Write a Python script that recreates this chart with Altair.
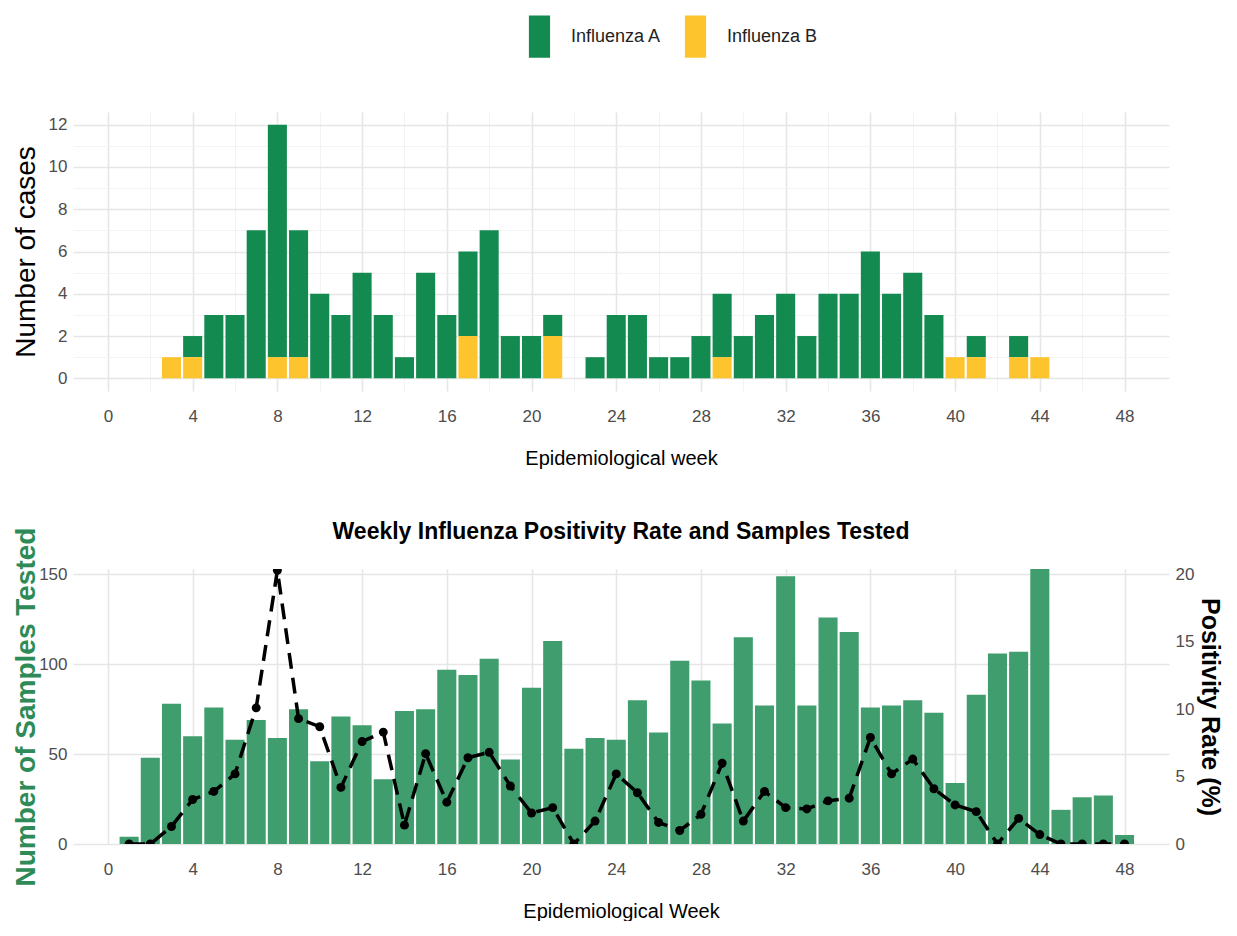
import altair as alt
import pandas as pd

weeks = list(range(1, 49))
flu_a = [0, 0, 0, 1, 3, 3, 7, 11, 6, 4, 3, 5, 3, 1, 5, 3, 4, 7, 2, 2, 1, 0, 1, 3,
         3, 1, 1, 2, 3, 2, 3, 4, 2, 4, 4, 6, 4, 5, 3, 0, 1, 0, 1, 0, 0, 0, 0, 0]
flu_b = [0, 0, 1, 1, 0, 0, 0, 1, 1, 0, 0, 0, 0, 0, 0, 0, 2, 0, 0, 0, 2, 0, 0, 0,
         0, 0, 0, 0, 1, 0, 0, 0, 0, 0, 0, 0, 0, 0, 0, 1, 1, 0, 1, 1, 0, 0, 0, 0]
samples = [4, 48, 78, 60, 76, 58, 69, 59, 75, 46, 71, 66, 36, 74, 75, 97, 94, 103,
           47, 87, 113, 53, 59, 58, 80, 62, 102, 91, 67, 115, 77, 149, 77, 126, 118,
           76, 77, 80, 73, 34, 83, 106, 107, 153, 19, 26, 27, 5]
positivity = [0, 0, 1.3, 3.3, 3.9, 5.2, 10.1, 20.3, 9.3, 8.7, 4.2, 7.6, 8.3, 1.4,
              6.7, 3.1, 6.4, 6.8, 4.3, 2.3, 2.7, 0, 1.7, 5.2, 3.8, 1.6, 1.0, 2.2,
              6.0, 1.7, 3.9, 2.7, 2.6, 3.2, 3.4, 7.9, 5.2, 6.3, 4.1, 2.9, 2.4, 0,
              1.9, 0.7, 0, 0, 0, 0]
types = ["Influenza A", "Influenza B"]
type_colors = ["#138a4f", "#fec42d"]
week_ticks = list(range(0, 49, 4))

rows = []
for w, a, b in zip(weeks, flu_a, flu_b):
    rows.append({"week": w, "type": types[0], "count": a, "ord": 1})
    rows.append({"week": w, "type": types[1], "count": b, "ord": 0})
cases = pd.DataFrame(rows)
tests = pd.DataFrame({"week": weeks, "samples": samples, "positivity": positivity})

FONT = "Liberation Sans, Arial, sans-serif"
W = 1096

xscale = alt.Scale(domain=[-1.65, 50.1], nice=False, zero=False)

top_x_axis = alt.Axis(
    values=list(range(0, 50, 2)),
    labelExpr="datum.value % 4 === 0 ? datum.label : ''",
    title="Epidemiological week",
    gridColor=alt.condition("datum.value % 4 === 0", alt.value("#e6e6e6"), alt.value("#f2f2f2")),
    gridWidth=alt.condition("datum.value % 4 === 0", alt.value(1.6), alt.value(0.9)),
)
top_y_axis = alt.Axis(
    values=list(range(0, 13)),
    labelExpr="datum.value % 2 === 0 ? datum.label : ''",
    title="Number of cases",
    titleFontSize=28,
    titleFontWeight="normal",
    minExtent=30, maxExtent=30,
    gridColor=alt.condition("datum.value % 2 === 0", alt.value("#e6e6e6"), alt.value("#f2f2f2")),
    gridWidth=alt.condition("datum.value % 2 === 0", alt.value(1.6), alt.value(0.9)),
)

top = alt.Chart(cases).transform_filter("datum.count > 0").transform_stack(
    stack="count", as_=["y0", "y1"], groupby=["week"],
    sort=[alt.SortField("ord", order="ascending")],
).transform_calculate(
    x0="datum.week - 0.45", x1="datum.week + 0.45"
).mark_bar().encode(
    x=alt.X("x0:Q", scale=xscale, axis=top_x_axis),
    x2="x1:Q",
    y=alt.Y("y0:Q", scale=alt.Scale(domain=[-0.6, 12.6], nice=False, zero=False),
            axis=top_y_axis),
    y2="y1:Q",
    color=alt.Color("type:N", scale=alt.Scale(domain=types, range=type_colors),
                    legend=alt.Legend(orient="none", direction="horizontal", legendX=445, legendY=-97,
                                      title=None, symbolType="M-0.5,-1L0.5,-1L0.5,1L-0.5,1Z",
                                      symbolSize=1800, symbolStrokeWidth=0, symbolOpacity=1,
                                      labelFont=FONT, labelFontSize=18, labelColor="#222222",
                                      labelOffset=10, columnPadding=12, padding=0)),
).properties(width=W, height=279)

bot_x_axis = alt.Axis(values=week_ticks, title="Epidemiological Week", gridColor="#e6e6e6", gridWidth=1.6)

bars = alt.Chart(tests).transform_calculate(
    x0="datum.week - 0.45", x1="datum.week + 0.45"
).mark_bar(color="#3f9d6e").encode(
    x=alt.X("x0:Q", scale=xscale, axis=bot_x_axis),
    x2="x1:Q",
    y=alt.Y("samples:Q", scale=alt.Scale(domain=[0, 153], nice=False),
            axis=alt.Axis(values=[0, 50, 100, 150], title="Number of Samples Tested",
                          titleColor="#2e8b57", titleFontSize=28, minExtent=30, maxExtent=30,
                          titleFontWeight="bold", gridColor="#e6e6e6", gridWidth=1.6)),
    y2=alt.datum(0),
)

line = alt.Chart(tests).mark_line(
    color="black", strokeWidth=3.5, strokeDash=[16, 9], clip=True,
    point=alt.OverlayMarkDef(filled=True, size=80, color="black", clip=True, opacity=1),
).encode(
    x=alt.X("week:Q", scale=xscale, axis=bot_x_axis),
    y=alt.Y("positivity:Q", scale=alt.Scale(domain=[0, 20.4], nice=False),
            axis=alt.Axis(orient="right", values=[0, 5, 10, 15, 20], title="Positivity Rate (%)",
                          titleFontSize=25, titleFontWeight="bold", labelPadding=6,
                          titleColor="black", grid=False, titlePadding=3)),
)

bottom = alt.layer(bars, line).resolve_scale(y="independent").properties(
    width=W, height=275,
    title=alt.TitleParams("Weekly Influenza Positivity Rate and Samples Tested", font=FONT,
                          fontSize=23, fontWeight="bold", color="black", anchor="middle",
                          frame="group", offset=-17),
)

chart = alt.vconcat(top, bottom, spacing=53).properties(
    padding={"top": 7, "left": 3, "right": 5, "bottom": 0}
).configure_view(stroke=None).configure_axis(
    labelFont=FONT, labelFontSize=17, labelColor="#4d4d4d", labelPadding=6,
    titleFont=FONT, titleFontSize=20, titleFontWeight="normal", titleColor="black",
    ticks=False, domain=False, titlePadding=3,
).configure_axisX(labelPadding=17, titlePadding=24)

chart.save("out.html", embed_options={"renderer": "svg", "actions": False})
